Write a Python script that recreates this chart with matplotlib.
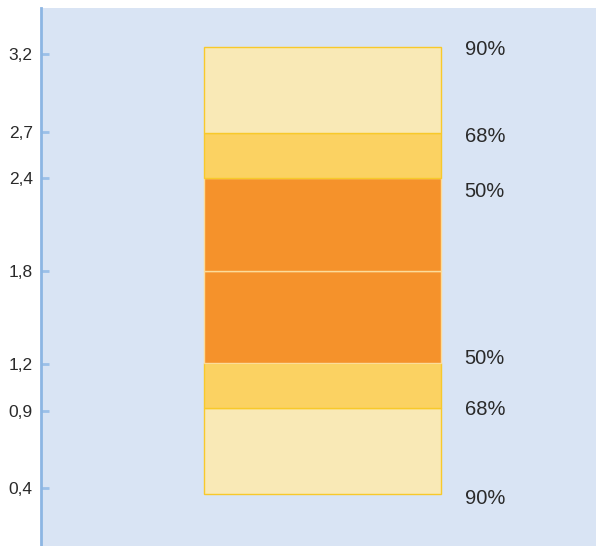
import matplotlib
matplotlib.use("Agg")
import matplotlib.pyplot as plt

# Band edges (value axis) from bottom to top
band_lower = [0.36, 0.92, 1.21, 1.80, 2.40, 2.69]
band_upper = [0.92, 1.21, 1.80, 2.40, 2.69, 3.25]
band_level = ["90%", "68%", "50%", "50%", "68%", "90%"]
tick_values = [0.4, 0.9, 1.2, 1.8, 2.4, 2.7, 3.2]
tick_labels = ["0,4", "0,9", "1,2", "1,8", "2,4", "2,7", "3,2"]
label_values = [0.335, 0.905, 1.235, 2.315, 2.67, 3.235]
label_texts = ["90%", "68%", "50%", "50%", "68%", "90%"]

fill_colors = {"90%": "#f9e9b6", "68%": "#fbd262", "50%": "#f5922b"}
edge_colors = {"90%": "#f8c92a", "68%": "#f8c92a", "50%": "#fcdc9a"}

plt.rcParams["font.family"] = ["Liberation Sans", "DejaVu Sans"]

fig = plt.figure(figsize=(5.96, 5.46), dpi=100)
ax = fig.add_axes([41 / 596, 0, 1 - 41 / 596, 1 - 8 / 546])
ax.set_facecolor("#d9e4f4")

for lo, hi, lev in zip(band_lower, band_upper, band_level):
    ax.bar(0, hi - lo, bottom=lo, width=1.0, color=fill_colors[lev],
           edgecolor=edge_colors[lev], linewidth=1.0, zorder=2)

for v, t in zip(label_values, label_texts):
    ax.text(0.6, v, t, ha="left", va="center", fontsize=14.5, color="#2a2a2a")

ax.set_xlim(-1.188, 1.154)
ax.set_ylim(0.026, 3.5)
ax.set_xticks([])
ax.set_yticks(tick_values)
ax.set_yticklabels(tick_labels, fontsize=12.5, color="#2a2a2a")
ax.tick_params(axis="y", direction="in", length=6, width=2, color="#9cc0e8", pad=6)

for s in ["top", "right", "bottom"]:
    ax.spines[s].set_visible(False)
ax.spines["left"].set_color("#8db6e3")
ax.spines["left"].set_linewidth(2)

fig.savefig("out.png", dpi=100)
